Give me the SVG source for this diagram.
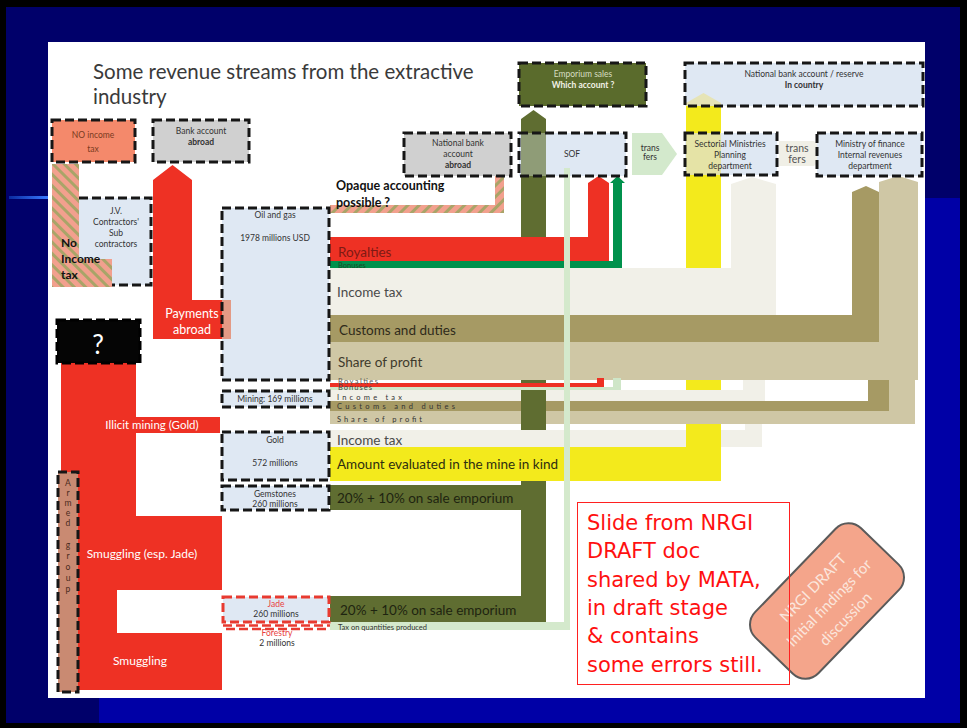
<svg xmlns="http://www.w3.org/2000/svg" width="967" height="728" viewBox="0 0 967 728">
<defs>
<style>
.bx{stroke:#161616;stroke-width:3;stroke-dasharray:9 4;fill:none}
.lb{fill:#dfe8f3}
.t{font-family:Lato,"Open Sans","Liberation Sans",sans-serif}
.s{font-family:Lato,"Open Sans","Liberation Sans",sans-serif;font-size:8.5px;fill:#333;text-anchor:middle}
.b{font-weight:bold}
.bt{font-family:Lato,"Open Sans","Liberation Sans",sans-serif;font-size:13.5px}
.tn{font-family:Lato,"Open Sans","Liberation Sans",sans-serif;font-size:7.5px;fill:#333}
.wt{font-family:Lato,"Open Sans","Liberation Sans",sans-serif;fill:#fff;text-anchor:middle}
.note{font-family:"DejaVu Sans","Liberation Sans",sans-serif;font-size:21px;fill:#ff1010}
</style>
<pattern id="hA" patternUnits="userSpaceOnUse" width="8" height="8" patternTransform="rotate(-45)">
<rect width="8" height="8" fill="#f2a08e"/><rect width="3" height="8" fill="#a9a468"/>
</pattern>
<pattern id="hB" patternUnits="userSpaceOnUse" width="8" height="8" patternTransform="rotate(45)">
<rect width="8" height="8" fill="#f2a08e"/><rect width="3" height="8" fill="#a9a468"/>
</pattern>
<linearGradient id="gl" x1="0" x2="1" y1="0" y2="0">
<stop offset="0" stop-color="#0a2aa0"/><stop offset="1" stop-color="#3a7aff"/>
</linearGradient>
</defs>

<g id="frame">
<rect width="967" height="728" fill="#000"/>
<rect x="6" y="7" width="954" height="716" fill="#00006a"/>
<rect x="925" y="198" width="35" height="525" fill="#0000a6"/>
<rect x="99" y="698" width="861" height="25" fill="#0000a6"/>
<rect x="9" y="196" width="39" height="3" fill="url(#gl)"/>
<rect x="48" y="42" width="877" height="656" fill="#fff"/>
</g>

<g id="title" class="t" font-size="20.5" fill="#3a3a3a">
<text x="93" y="79">Some revenue streams from the extractive</text>
<text x="93" y="104">industry</text>
</g>

<g id="connectors">
<path d="M330,430 H745 V380 H762 V447 H330 Z" fill="#f1f0e8"/>
<path d="M686,103 L703.5,93 L721,103 V481 H686 Z" fill="#f3ea1c"/>
<path d="M330,390 H743 V380 H765 V401 H330 Z" fill="#f1f0e8"/>
<path d="M330,401 H868 V380 H889 V411 H330 Z" fill="#a69a64"/>
<path d="M330,411 H889 V380 H915 V424 H330 Z" fill="#cfc7a5"/>
<path d="M521,119 L533.5,110 L546,119 V622 H330 V596 H521 V510 H330 V485 H521 Z" fill="#5f6d31"/>
<rect x="330" y="430" width="356" height="17" fill="#f1f0e8"/>
<rect x="330" y="447" width="391" height="34" fill="#f3ea1c"/>
<path d="M330,268 H731 V184 L752,177 L776,184 V315 H330 Z" fill="#f1f0e8"/>
<path d="M330,315 H852 V192 L866,186 L879,192 V342 H330 Z" fill="#a69a64"/>
<path d="M330,342 H879 V182 L898.5,176 L918,182 V380 H330 Z" fill="#cfc7a5"/>
<path d="M330,237 H588 V183 L598.5,176 L609,183 V261 H330 Z" fill="#ee3124"/>
<path d="M330,261 H613 V183 H610 L617.5,176 L625,183 H622 V268 H330 Z" fill="#00914c"/>
<path d="M330,387 H613 V378 H621 V390 H330 Z" fill="#cfe6c8"/>
<path d="M330,383 H597 V378 H604 V387 H330 Z" fill="#ee3124"/>
<path d="M564,168 H570 V630 H330 V622 H564 Z" fill="#d4e9cc"/>
<path d="M330,205 H495 V167 H491 L499.5,159 L508,167 H504 V213 H330 Z" fill="url(#hB)"/>
<path d="M153,180 L172.5,165 L192,180 V300 H222 V339 H153 Z" fill="#ee3124"/>
<path d="M61,363 H136 V417 H220 V433 H136 V516 H222 V590 H117 V633 H222 V690 H61 Z" fill="#ee3124"/>
<path d="M632,133 H662 L677,154 L662,175 H632 Z" fill="#d3e9cc"/>
<path d="M779,141 H814 L826,153.5 L814,166 H779 Z" fill="#f0efe6"/>
</g>

<g id="jv">
<rect x="79" y="198" width="72" height="87" class="lb"/>
<path d="M79,198 H151 V285 H112" class="bx"/>
<text class="s" x="116" y="214">J.V.</text>
<text class="s" x="116" y="225">Contractors'</text>
<text class="s" x="116" y="236">Sub</text>
<text class="s" x="116" y="247">contractors</text>
</g>

<g id="noincome-stripe">
<path d="M52,164 H79 V259 H112 V287 H52 Z" fill="url(#hA)"/>
<text class="t b" font-size="12" fill="#111" x="61" y="247">No</text>
<text class="t b" font-size="12" fill="#111" x="61" y="263">Income</text>
<text class="t b" font-size="12" fill="#111" x="61" y="279">tax</text>
</g>

<g id="noincome">
<rect x="52" y="120" width="83" height="42" fill="#f4896b"/>
<rect x="52" y="120" width="83" height="42" class="bx"/>
<text class="s" style="fill:#7a3a1e" font-size="9.5" x="93" y="138">NO income</text>
<text class="s" style="fill:#7a3a1e" font-size="9.5" x="93" y="152">tax</text>
</g>

<g id="bankabroad">
<rect x="153" y="120" width="96" height="42" fill="#d0d0d0"/>
<rect x="153" y="120" width="96" height="42" class="bx"/>
<text class="s" x="201" y="134">Bank account</text>
<text class="s b" x="201" y="145">abroad</text>
</g>

<g id="payments-label">
<text class="wt" font-size="12.5" x="192" y="318">Payments</text>
<text class="wt" font-size="12.5" x="192" y="334">abroad</text>
</g>

<g id="oilgas">
<rect x="222" y="208" width="107" height="172" class="lb"/>
<rect x="222" y="300" width="9" height="39" fill="#e39a85"/>
<rect x="222" y="208" width="107" height="172" class="bx"/>
<text class="s" x="275" y="218">Oil and gas</text>
<text class="s" x="275" y="241">1978 millions USD</text>
</g>

<g id="mining">
<rect x="222" y="391" width="107" height="16" class="lb"/>
<rect x="222" y="391" width="107" height="16" class="bx"/>
<text class="s" x="275" y="402">Mining:  169 millions</text>
</g>

<g id="gold">
<rect x="222" y="432" width="107" height="48" class="lb"/>
<rect x="222" y="432" width="107" height="48" class="bx"/>
<text class="s" x="275" y="443">Gold</text>
<text class="s" x="275" y="466">572 millions</text>
</g>

<g id="gemstones">
<rect x="222" y="486" width="107" height="24" class="lb"/>
<rect x="222" y="486" width="107" height="24" class="bx"/>
<text class="s" x="275" y="497">Gemstones</text>
<text class="s" x="275" y="507">260 millions</text>
</g>

<g id="jade">
<rect x="223" y="597" width="106" height="25" class="lb"/>
<rect x="223" y="597" width="106" height="25" class="bx" style="stroke:#e83a30"/>
<path d="M223,625.5 H330 M226,629 H330" class="bx" style="stroke:#e83a30;stroke-width:2.5"/>
<text class="s" style="fill:#e84040" x="276" y="607">Jade</text>
<text class="s" x="276" y="617">260 millions</text>
<text class="s" style="fill:#e84040" x="277" y="636">Forestry</text>
<text class="s" x="277" y="646">2 millions</text>
</g>

<g id="question">
<rect x="57" y="320" width="83" height="43" fill="#050505"/>
<rect x="57" y="320" width="83" height="43" class="bx" style="stroke:#000"/>
<text class="wt" font-size="26" x="98" y="354">?</text>
</g>

<g id="illicit-labels">
<text class="wt" font-size="11.5" x="152" y="429">Illicit mining (Gold)</text>
<text class="wt" font-size="12" x="142" y="558">Smuggling (esp. Jade)</text>
<text class="wt" font-size="12" x="140" y="665">Smuggling</text>
</g>

<g id="armed">
<rect x="58" y="472" width="20" height="220" fill="#c98a72"/>
<rect x="58" y="472" width="20" height="220" class="bx"/>
<g class="s" style="fill:#4a2a20" font-size="7.5">
<text x="68" y="486">A</text><text x="68" y="496">r</text><text x="68" y="506">m</text><text x="68" y="516">e</text><text x="68" y="526">d</text>
<text x="68" y="548">g</text><text x="68" y="559">r</text><text x="68" y="570">o</text><text x="68" y="581">u</text><text x="68" y="592">p</text>
</g>
</g>

<g id="natabroad">
<rect x="404" y="133" width="107" height="43" fill="#d0d0d0"/>
<rect x="404" y="133" width="107" height="43" class="bx"/>
<text class="s" x="458" y="146">National bank</text>
<text class="s" x="458" y="157">account</text>
<text class="s b" x="458" y="168">abroad</text>
</g>

<g id="emporium">
<rect x="519" y="63" width="127" height="43" fill="#5a6b2c"/>
<rect x="519" y="63" width="127" height="43" class="bx"/>
<text class="s" style="fill:#d6ddc0" x="583" y="77">Emporium sales</text>
<text class="s b" style="fill:#f2f2e6" x="583" y="88">Which account ?</text>
</g>

<g id="sof">
<rect x="519" y="133" width="107" height="43" class="lb"/>
<rect x="521" y="133" width="25" height="43" fill="#8f9c77"/>
<rect x="564" y="168" width="6" height="8" fill="#d4e9cc"/>
<rect x="519" y="133" width="107" height="43" class="bx"/>
<text class="s" x="572" y="157">SOF</text>
</g>

<g id="transfers1">
<text class="s" font-size="7" x="650" y="151">trans</text>
<text class="s" font-size="7" x="650" y="160">fers</text>
</g>

<g id="natreserve">
<rect x="685" y="63" width="238" height="43" class="lb"/>
<path d="M686,106 V103 L703.5,93 L721,103 V106 Z" fill="#e6e4b6"/>
<rect x="685" y="63" width="238" height="43" class="bx"/>
<text class="s" x="804" y="77">National bank account / reserve</text>
<text class="s b" x="804" y="88">In country</text>
</g>

<g id="sectorial">
<rect x="685" y="133" width="92" height="42" class="lb"/>
<rect x="686" y="133" width="35" height="42" fill="#e5e3a6"/>
<rect x="685" y="133" width="92" height="42" class="bx"/>
<text class="s" x="730" y="147">Sectorial Ministries</text>
<text class="s" x="730" y="158">Planning</text>
<text class="s" x="730" y="169">department</text>
</g>

<g id="transfers2">
<text class="t" font-size="10.5" fill="#555" text-anchor="middle" x="797" y="152">trans</text>
<text class="t" font-size="10.5" fill="#555" text-anchor="middle" x="797" y="163">fers</text>
</g>

<g id="ministry">
<rect x="817" y="133" width="105" height="43" class="lb"/>
<rect x="817" y="133" width="105" height="43" class="bx"/>
<text class="s" x="870" y="147">Ministry of finance</text>
<text class="s" x="870" y="158">Internal revenues</text>
<text class="s" x="870" y="169">department</text>
</g>

<g id="opaque">
<text class="t b" font-size="12.5" fill="#111" x="336" y="190">Opaque accounting</text>
<text class="t b" font-size="12.5" fill="#111" x="336" y="207">possible ?</text>
</g>

<g id="flow-labels">
<text class="bt" fill="#7d1a14" font-size="13" x="338" y="257">Royalties</text>
<text class="tn" style="fill:#1a4a2a" font-size="6.5" x="338" y="268">Bonuses</text>
<text class="bt" fill="#4a4a4a" font-size="14" x="337" y="297">Income tax</text>
<text class="bt" fill="#2e2a1a" x="339" y="335">Customs and duties</text>
<text class="bt" fill="#3e3a2c" x="338" y="367">Share of profit</text>
<text class="tn" style="fill:#555" font-size="4.5" x="338" y="383.5" textLength="40">Royalties</text>
<text class="tn" style="fill:#444" font-size="4.5" x="338" y="390" textLength="34">Bonuses</text>
<text class="tn" x="337" y="400" textLength="65">Income tax</text>
<text class="tn" x="337" y="409" textLength="118">Customs and duties</text>
<text class="tn" x="337" y="422" textLength="85">Share of profit</text>
<text class="bt" fill="#4a4a4a" x="337" y="445">Income tax</text>
<text class="bt" fill="#2e2e10" x="337" y="469">Amount evaluated in the mine in kind</text>
<text class="bt" fill="#1e2410" x="337" y="503">20% + 10% on sale emporium</text>
<text class="bt" fill="#1e2410" x="340" y="615">20% + 10% on sale emporium</text>
<text class="tn" fill="#222" x="338" y="630">Tax on quantities produced</text>
</g>

<g id="stamp" transform="translate(827,601) rotate(-46)">
<rect x="-76" y="-44" width="152" height="88" rx="18" fill="#f4a58b" stroke="#5a5a5a" stroke-width="2"/>
<g class="t" font-size="15" fill="#fbe6dd" text-anchor="middle">
<text x="0" y="-14">NRGI DRAFT</text>
<text x="0" y="8">Initial findings for</text>
<text x="0" y="31">discussion</text>
</g>
</g>

<g id="note">
<rect x="577.5" y="502.5" width="212" height="182" fill="none" stroke="#ff2020" stroke-width="1"/>
<text class="note" x="587" y="530">Slide from NRGI</text>
<text class="note" x="587" y="558">DRAFT doc</text>
<text class="note" x="587" y="587">shared by MATA,</text>
<text class="note" x="587" y="615">in draft stage</text>
<text class="note" x="587" y="643">&amp; contains</text>
<text class="note" x="587" y="672">some errors still.</text>
</g>
</svg>
